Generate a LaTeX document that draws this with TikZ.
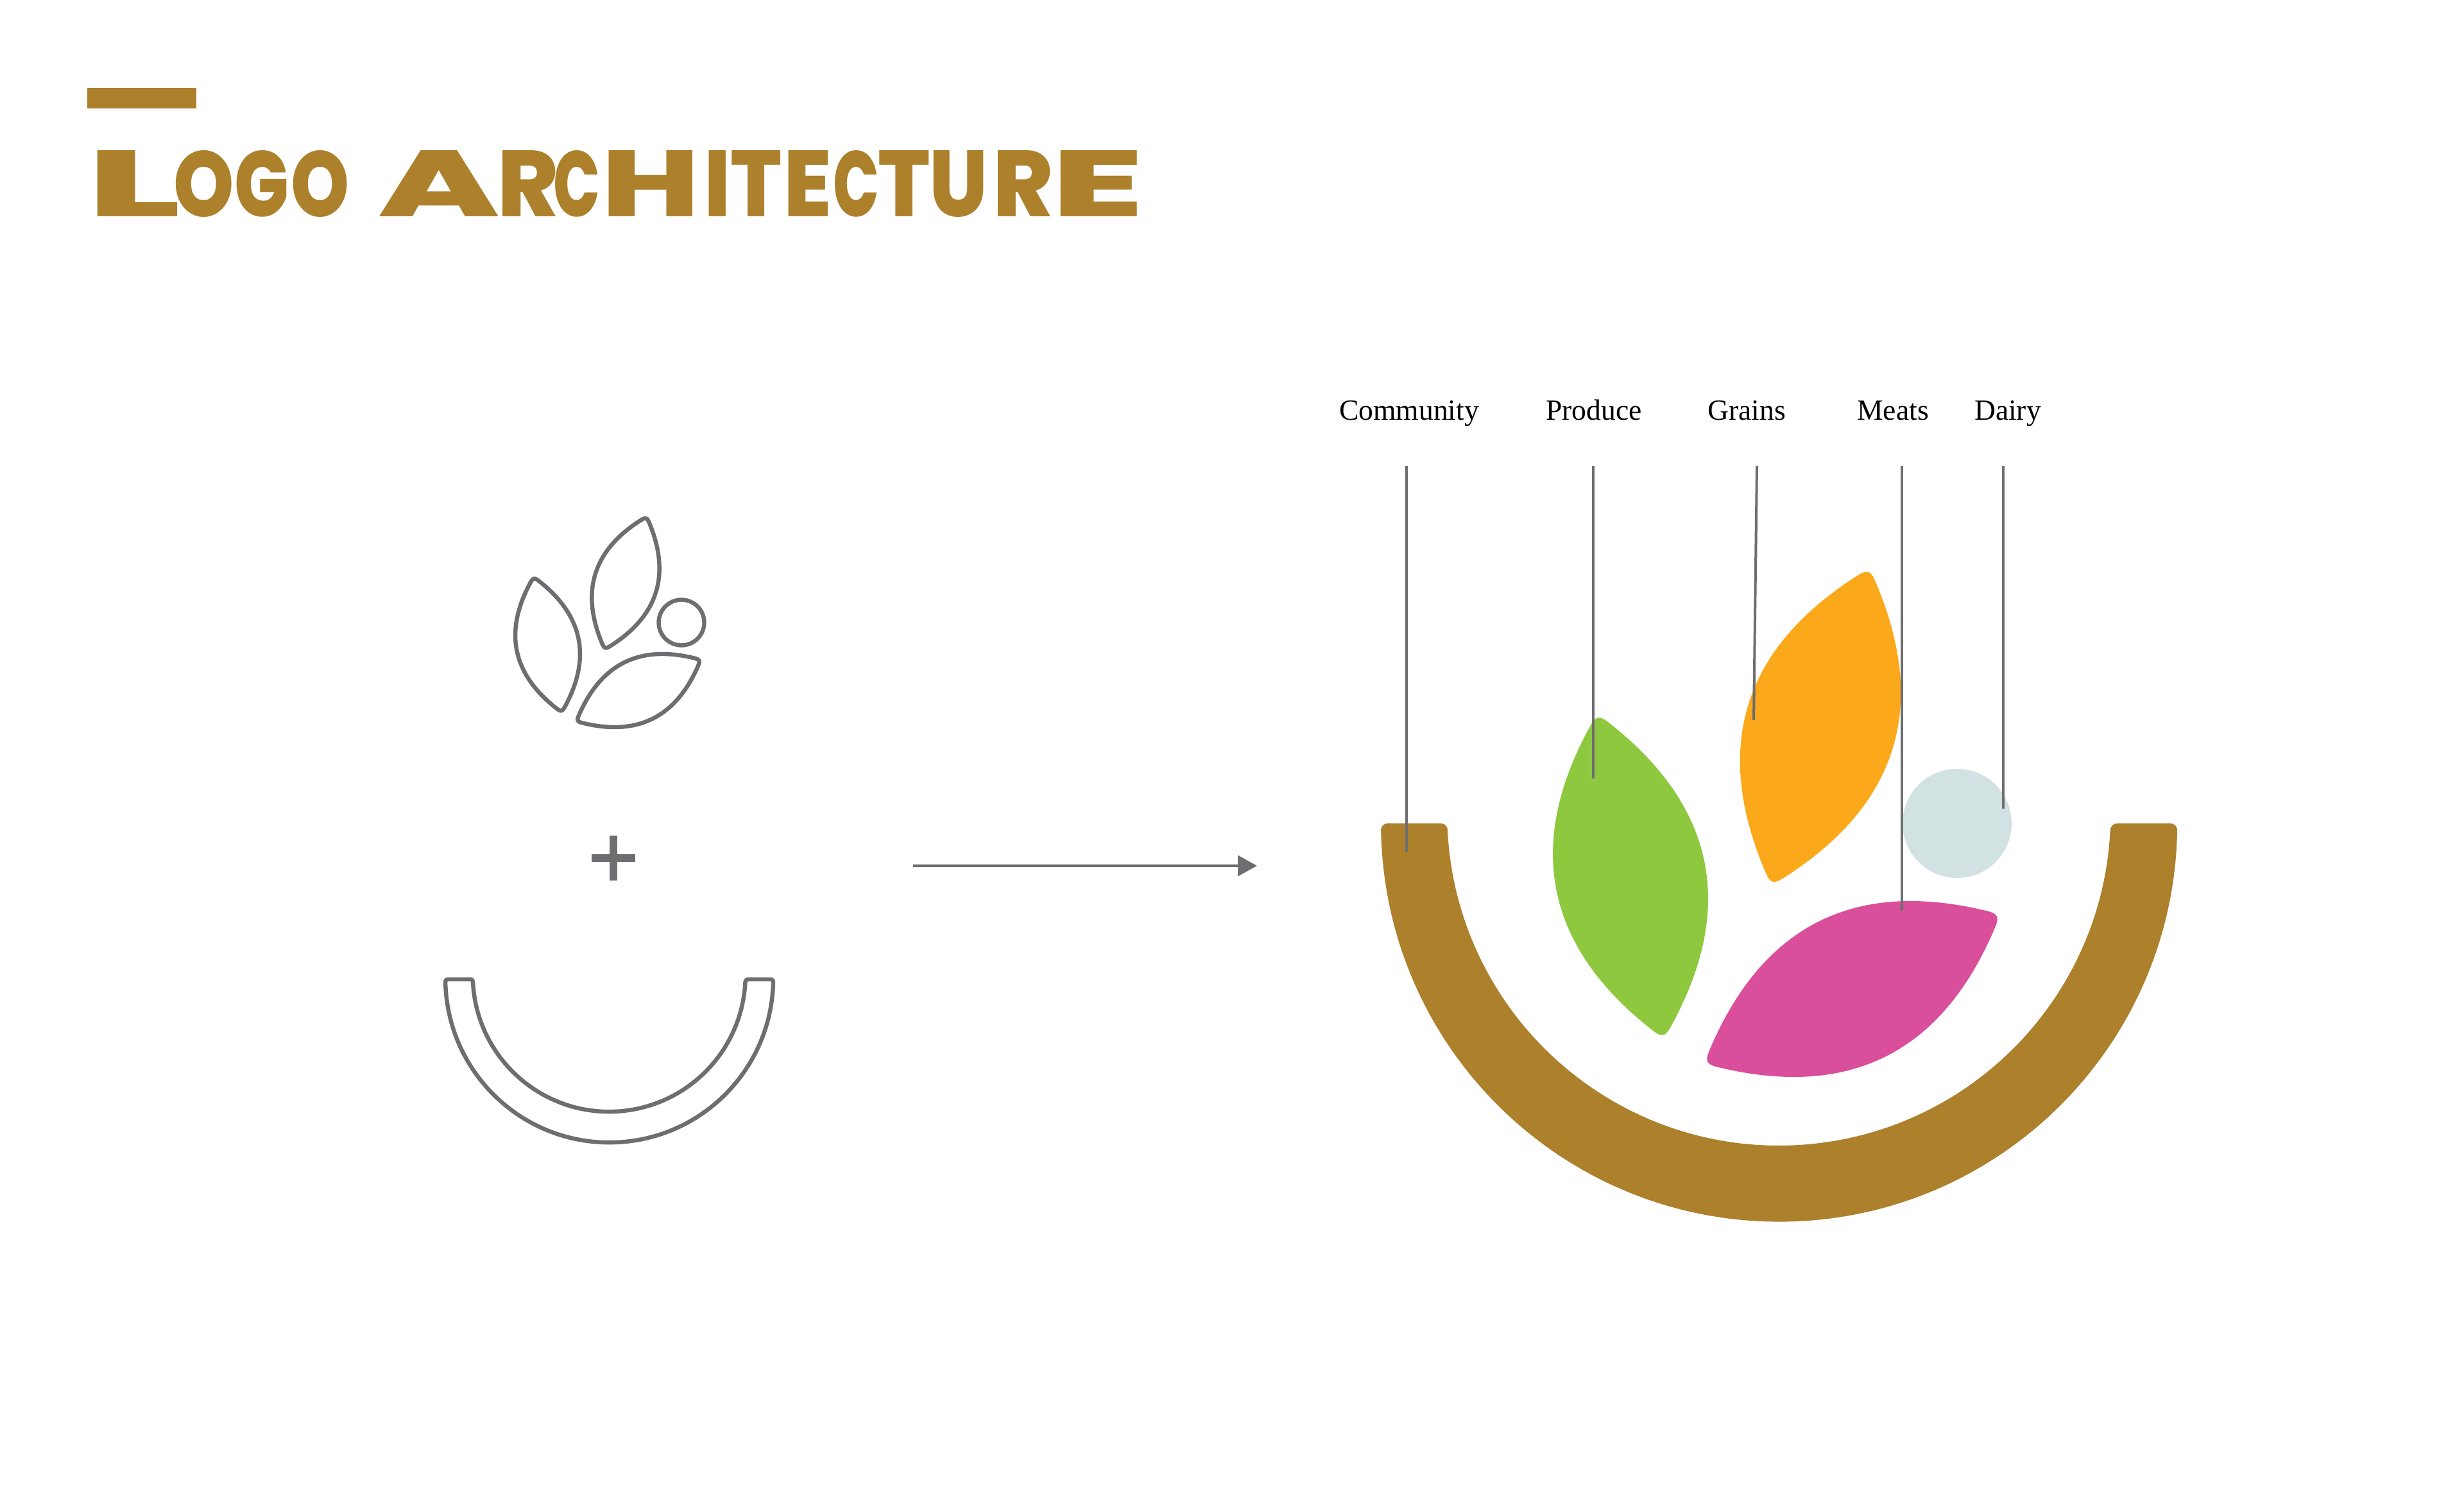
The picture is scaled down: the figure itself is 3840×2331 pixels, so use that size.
\documentclass[tikz,border=0pt]{standalone}
\usepackage{fontspec}
\setmainfont{Liberation Serif}
\newfontfamily\titlefont{Poppins ExtraBold}
\usetikzlibrary{arrows.meta, positioning, calc}

\definecolor{bowlbrown}{HTML}{AD802C}
\definecolor{linegray}{HTML}{6D6E71}
\definecolor{leafgreen}{HTML}{8DC83F}
\definecolor{leaforange}{HTML}{FBA81A}
\definecolor{leafpink}{HTML}{DA4F9B}
\definecolor{dairyblue}{HTML}{D2E2E2}

% one title letter, stretched to its own width
\newcommand{\ttlchar}[2]{\resizebox{#1pt}{25.75pt}{\kern-.035em#2\kern-.035em}}
% leaf from (0,0) to (1,0), see leaf_frame
\newcommand{\leafshape}{(0.02,0.026) .. controls (0.34,0.30) and (0.66,0.30) .. (0.98,0.026) .. controls (1.003,0.006) and (1.003,-0.006) .. (0.98,-0.026) .. controls (0.66,-0.30) and (0.34,-0.30) .. (0.02,-0.026) .. controls (-0.003,-0.006) and (-0.003,0.006) .. (0.02,0.026) -- cycle}

\begin{document}
\begin{tikzpicture}[
        x=0.25pt, y=-0.25pt,
        leaf_frame/.style n args={4}{shift={(#1,#2)}, x={({(#3-#1)*0.25pt},{(#2-#4)*0.25pt})}, y={({(#4-#2)*0.25pt},{(#3-#1)*0.25pt})}},
        outline_style/.style={draw=linegray, line width=1.6pt, line join=round},
        leader_line/.style={draw=linegray, line width=1pt},
        label_style/.style={anchor=base, inner sep=0pt, font=\fontsize{11.4pt}{14pt}\selectfont},
        plus_bar/.style={draw=linegray, line width=2.9pt},
        line/.style={draw=linegray, line width=1pt, -{Triangle[length=7.5pt, width=8pt]}}
    ]
    \useasboundingbox (0,0) rectangle (3840,2331);
    \fill [white] (0,0) rectangle (3840,2331);

    % Title
    \fill [bowlbrown] (136,137) rectangle (306,169);
    \node (title) [anchor=base west, inner sep=0pt, text=bowlbrown, font=\titlefont] at (145,338) {\spaceskip=14.25pt%
        \ttlchar{31.5}{L}\kern.75pt\ttlchar{21.5}{O}\kern2.25pt\ttlchar{19.25}{G}\kern2.75pt\ttlchar{20.75}{O} %
        \ttlchar{43}{A}\kern2.75pt\ttlchar{21.25}{R}\ttlchar{16.5}{C}\kern3.25pt\ttlchar{34.75}{H}\kern4.5pt\ttlchar{8}{I}\kern2.25pt%
        \ttlchar{17.75}{T}\kern3pt\ttlchar{16.25}{E}\kern2.75pt\ttlchar{16.25}{C}\kern1.5pt\ttlchar{18}{T}\kern2pt\ttlchar{20.5}{U}\kern4.25pt\ttlchar{21}{R}\kern3pt\ttlchar{31.5}{E}};

    % Left: outlined parts
    \draw [outline_style, leaf_frame={832}{901}{875}{1108}] \leafshape;
    \draw [outline_style, leaf_frame={1007}{807}{943}{1010}] \leafshape;
    \draw [outline_style, leaf_frame={900}{1123}{1090}{1029}] \leafshape;
    \draw [outline_style] (1062,970) circle [radius=35.5];

    \draw [plus_bar] (922,1337) -- (990,1337);
    \draw [plus_bar] (956,1302) -- (956,1372);

    \draw [outline_style] (694,1530) .. controls (694,1527) and (695,1526) .. (698,1526) -- (733,1526)
        .. controls (736,1526) and (737,1527) .. (737,1530)
        arc [start angle=177.2, end angle=2.8, radius=212.5]
        .. controls (1162,1527) and (1163,1526) .. (1166,1526) -- (1201,1526)
        .. controls (1204,1526) and (1205,1527) .. (1205,1530)
        arc [start angle=1.2, end angle=178.8, radius=255.5] -- cycle;

    % Arrow
    \coordinate (arrow_start) at (1423,1349);
    \coordinate (arrow_end) at (1959,1349);
    \draw [line] (arrow_start) -- (arrow_end);

    % Right: filled logo
    \fill [bowlbrown] (2152,1295) .. controls (2152,1287) and (2156,1283) .. (2164,1283) -- (2245,1283)
        .. controls (2252,1283) and (2256,1287) .. (2256,1295)
        arc [start angle=177, end angle=3, radius=517]
        .. controls (3289,1287) and (3293,1283) .. (3300,1283) -- (3381,1283)
        .. controls (3389,1283) and (3393,1287) .. (3393,1295)
        arc [start angle=1.1, end angle=178.9, radius=620.5] -- cycle;

    \fill [leafgreen, leaf_frame={2490}{1117}{2592}{1614}] \leafshape;
    \fill [leaforange, leaf_frame={2912}{890}{2762}{1375}] \leafshape;
    \fill [leafpink, leaf_frame={2660}{1655}{3113}{1427}] \leafshape;
    \fill [dairyblue] (3050,1283) circle [radius=85];

    % Labels
    \node (community) [label_style] at (2196,655) {Community};
    \node (produce) [label_style] at (2484,655) {Produce};
    \node (grains) [label_style] at (2722,655) {Grains};
    \node (meats) [label_style] at (2950,655) {Meats};
    \node (dairy) [label_style] at (3129,655) {Dairy};

    % Leader lines
    \coordinate (community_top) at (2192,726);
    \coordinate (community_end) at (2192,1328);
    \coordinate (produce_top) at (2483,726);
    \coordinate (produce_end) at (2483,1213);
    \coordinate (grains_top) at (2738,726);
    \coordinate (grains_end) at (2733,1122);
    \coordinate (meats_top) at (2964,726);
    \coordinate (meats_end) at (2964,1419);
    \coordinate (dairy_top) at (3122,726);
    \coordinate (dairy_end) at (3122,1260);
    \draw [leader_line] (community_top) -- (community_end);
    \draw [leader_line] (produce_top) -- (produce_end);
    \draw [leader_line] (grains_top) -- (grains_end);
    \draw [leader_line] (meats_top) -- (meats_end);
    \draw [leader_line] (dairy_top) -- (dairy_end);
\end{tikzpicture}
\end{document}
